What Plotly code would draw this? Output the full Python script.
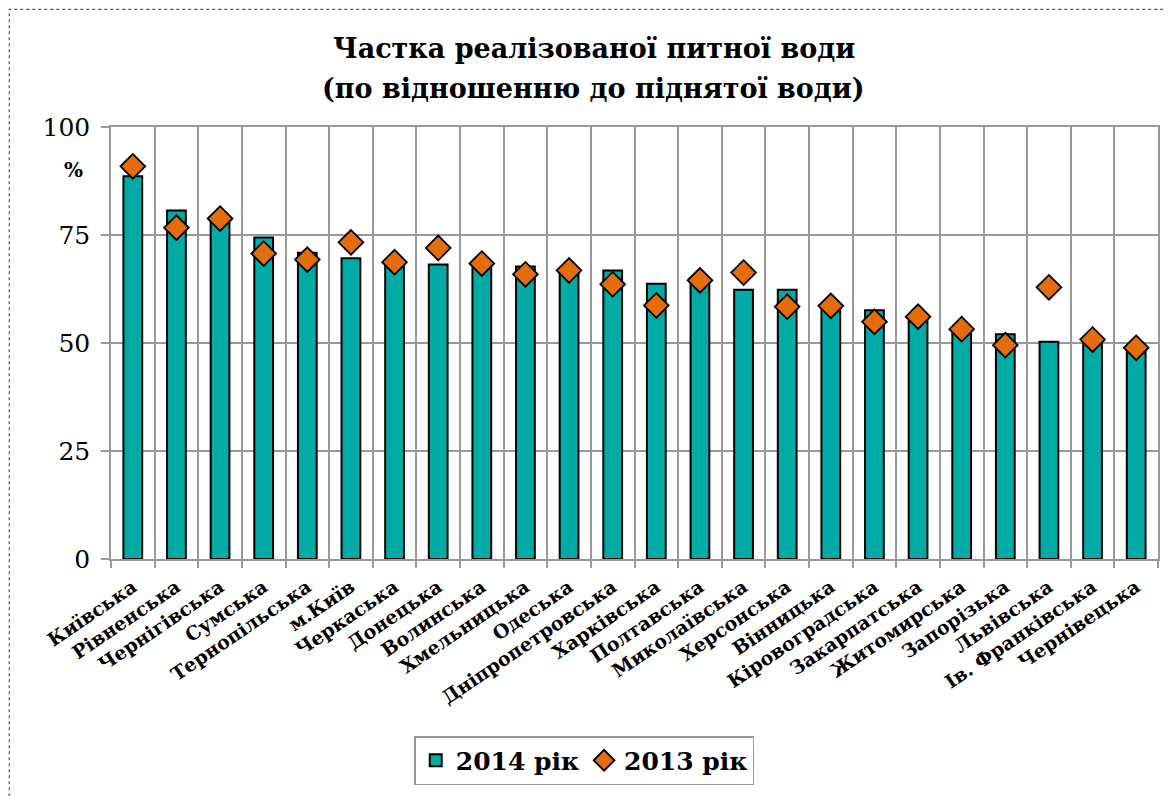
import plotly.graph_objects as go

# Regions (x axis categories)
regions = ['Київська', 'Рівненська', 'Чернігівська', 'Сумська', 'Тернопільська',
           'м.Київ', 'Черкаська', 'Донецька', 'Волинська', 'Хмельницька', 'Одеська',
           'Дніпропетровська', 'Харківська', 'Полтавська', 'Миколаївська', 'Херсонська',
           'Вінницька', 'Кіровоградська', 'Закарпатська', 'Житомирська', 'Запорізька',
           'Львівська', 'Ів. Франківська', 'Чернівецька']

# Share of sold drinking water, %
share_2014 = [88.6, 80.7, 78.0, 74.4, 70.9, 69.6, 68.3, 68.2, 67.9, 67.7, 66.6,
              66.8, 63.7, 63.8, 62.3, 62.3, 57.9, 57.6, 55.3, 52.4, 52.0,
              50.3, 50.2, 48.3]
share_2013 = [90.9, 76.7, 78.8, 70.7, 69.3, 73.3, 68.7, 72.0, 68.4, 65.9, 66.8,
              63.6, 58.7, 64.5, 66.3, 58.4, 58.6, 54.9, 56.1, 53.2, 49.5,
              62.9, 50.8, 48.9]

y_ticks = [0, 25, 50, 75, 100]

title_lines = ['Частка реалізованої питної води', '(по відношенню до піднятої води)']

serif = 'DejaVu Serif'

fig = go.Figure()

fig.add_trace(go.Bar(
    x=regions,
    y=share_2014,
    name='2014 рік',
    marker=dict(color='#00AAA5', line=dict(color='black', width=2)),
))

fig.add_trace(go.Scatter(
    x=regions,
    y=share_2013,
    mode='markers',
    name='2013 рік',
    marker=dict(symbol='diamond', size=19, color='#E46C0A',
                line=dict(color='black', width=1.8)),
))

# title as two annotations so each line sits where it should
annotations = []
for line, ypos in zip(title_lines, [1.182, 1.090]):
    annotations.append(dict(
        text='<b>' + line + '</b>', xref='paper', yref='paper',
        x=0.461, y=ypos, xanchor='center', yanchor='middle',
        showarrow=False, font=dict(family=serif, size=27, color='black'),
    ))
annotations.append(dict(
    text='<b>%</b>', xref='paper', yref='paper',
    x=-0.036, y=0.90, xanchor='center', yanchor='middle',
    showarrow=False, font=dict(family=serif, size=20, color='black'),
))

# page body has an 8px margin, so the figure is 8px smaller than the window
fig.update_layout(
    width=1163,
    height=788,
    margin=dict(l=103, r=11, t=119, b=236),
    paper_bgcolor='white',
    plot_bgcolor='white',
    bargap=0.57,
    xaxis=dict(
        type='category',
        range=[-0.5, len(regions) - 0.5],
        tickson='boundaries',
        showgrid=True, gridcolor='#999999', gridwidth=1.5,
        ticks='outside', ticklen=7, tickcolor='#999999', tickwidth=1.5,
        tickangle=-34,
        ticklabelstandoff=8,
        tickfont=dict(family=serif, size=19, color='black', weight='bold'),
        showline=True, linecolor='#999999', linewidth=1.5,
        mirror=True,
    ),
    yaxis=dict(
        range=[0, 100],
        tickvals=y_ticks,
        showgrid=True, gridcolor='#999999', gridwidth=1.5,
        ticks='outside', ticklen=8, tickcolor='#999999', tickwidth=1.5,
        ticklabelstandoff=6,
        tickfont=dict(family=serif, size=25, color='black'),
        showline=True, linecolor='#999999', linewidth=1.5,
        mirror=True,
        zeroline=False,
    ),
    legend=dict(
        orientation='h',
        x=0.452, xanchor='center',
        y=-0.4665, yanchor='middle',
        bordercolor='#999999', borderwidth=1.5,
        font=dict(family=serif, size=25, color='black', weight='bold'),
        itemwidth=30,
    ),
    annotations=annotations,
    shapes=[dict(
        type='rect', xref='paper', yref='paper',
        x0=-0.0972, x1=1.03, y0=-0.56, y1=1.2725,
        line=dict(color='#555555', width=1.2, dash='dot'),
    )],
)

fig.write_html('out.html')
